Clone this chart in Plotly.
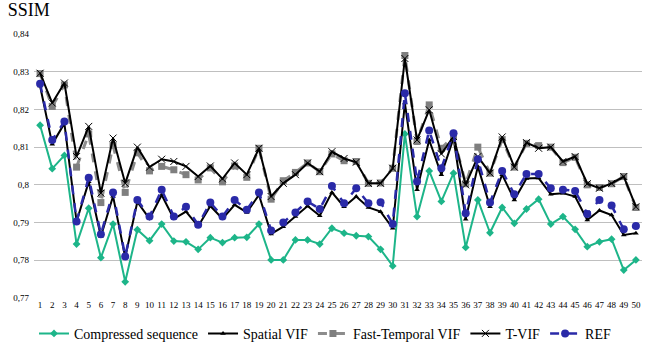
import plotly.graph_objects as go

frames = list(range(1, 51))

compressed = [0.8158, 0.8043, 0.8078, 0.7843, 0.7938, 0.7807, 0.7896, 0.7743, 0.7881, 0.7852,
              0.7896, 0.7851, 0.7849, 0.7829, 0.7860, 0.7847, 0.7860, 0.7861, 0.7896, 0.7801,
              0.7801, 0.7854, 0.7854, 0.7843, 0.7885, 0.7872, 0.7865, 0.7863, 0.7829, 0.7785,
              0.8135, 0.7916, 0.8037, 0.7956, 0.8031, 0.7834, 0.7960, 0.7873, 0.7940, 0.7898,
              0.7936, 0.7962, 0.7896, 0.7916, 0.7882, 0.7836, 0.7849, 0.7856, 0.7774, 0.7801]

spatial_vif = [0.8262, 0.8108, 0.8163, 0.7903, 0.8008, 0.7863, 0.7970, 0.7808, 0.7955, 0.7910,
               0.7973, 0.7910, 0.7929, 0.7890, 0.7944, 0.7910, 0.7947, 0.7927, 0.7973, 0.7870,
               0.7889, 0.7916, 0.7944, 0.7918, 0.7980, 0.7942, 0.7969, 0.7940, 0.7929, 0.7885,
               0.8217, 0.7987, 0.8119, 0.8027, 0.8124, 0.7909, 0.8049, 0.7942, 0.8027, 0.7960,
               0.8017, 0.8018, 0.7975, 0.7978, 0.7969, 0.7907, 0.7932, 0.7920, 0.7867, 0.7872]

fast_temporal_vif = [0.8295, 0.8208, 0.8265, 0.8047, 0.8135, 0.7953, 0.8105, 0.7980, 0.8085, 0.8037,
                     0.8049, 0.8040, 0.8027, 0.8013, 0.8045, 0.8008, 0.8050, 0.8020, 0.8097, 0.7962,
                     0.8011, 0.8033, 0.8058, 0.8035, 0.8082, 0.8064, 0.8062, 0.8004, 0.8005, 0.8044,
                     0.8343, 0.8115, 0.8212, 0.8097, 0.8128, 0.8003, 0.8100, 0.8031, 0.8120, 0.8047,
                     0.8110, 0.8104, 0.8100, 0.8059, 0.8073, 0.8000, 0.7993, 0.8003, 0.8022, 0.7940]

t_vif = [0.8296, 0.8217, 0.8270, 0.8075, 0.8155, 0.7978, 0.8124, 0.8004, 0.8100, 0.8047,
         0.8068, 0.8062, 0.8049, 0.8022, 0.8050, 0.8016, 0.8058, 0.8027, 0.8097, 0.7969,
         0.8004, 0.8027, 0.8058, 0.8035, 0.8088, 0.8070, 0.8060, 0.8004, 0.8004, 0.8044,
         0.8335, 0.8119, 0.8199, 0.8082, 0.8128, 0.8000, 0.8075, 0.8031, 0.8127, 0.8047,
         0.8112, 0.8097, 0.8100, 0.8062, 0.8075, 0.8003, 0.7991, 0.8004, 0.8022, 0.7942]

ref = [0.8268, 0.8119, 0.8168, 0.7903, 0.8019, 0.7869, 0.7980, 0.7810, 0.7960, 0.7916,
       0.7987, 0.7916, 0.7942, 0.7894, 0.7953, 0.7916, 0.7960, 0.7934, 0.7980, 0.7879,
       0.7900, 0.7927, 0.7956, 0.7936, 0.7997, 0.7951, 0.7991, 0.7951, 0.7954, 0.7896,
       0.8243, 0.8009, 0.8144, 0.8044, 0.8137, 0.7925, 0.8068, 0.7953, 0.8037, 0.7975,
       0.8029, 0.8029, 0.7991, 0.7987, 0.7984, 0.7923, 0.7960, 0.7945, 0.7882, 0.7891]

y_tick_vals = [0.77, 0.78, 0.79, 0.80, 0.81, 0.82, 0.83, 0.84]
y_tick_text = ["0,77", "0,78", "0,79", "0,8", "0,81", "0,82", "0,83", "0,84"]

SERIF = "Liberation Serif, Times New Roman, serif"

fig = go.Figure()
fig.add_trace(go.Scatter(x=frames, y=compressed, name="Compressed sequence", mode="lines+markers",
                         line=dict(color="#1DB589", width=2),
                         marker=dict(symbol="diamond", size=6, color="#1DB589")))
fig.add_trace(go.Scatter(x=frames, y=spatial_vif, name="Spatial VIF", mode="lines+markers",
                         line=dict(color="#000000", width=2),
                         marker=dict(symbol="triangle-up", size=5, color="#000000")))
fig.add_trace(go.Scatter(x=frames, y=fast_temporal_vif, name="Fast-Temporal VIF", mode="lines+markers",
                         line=dict(color="#8C8C8C", width=3, dash="dash"),
                         marker=dict(symbol="square", size=7, color="#7F7F7F")))
fig.add_trace(go.Scatter(x=frames, y=t_vif, name="T-VIF", mode="lines+markers",
                         line=dict(color="#000000", width=2),
                         marker=dict(symbol="x-thin", size=7, color="#000000",
                                     line=dict(width=1, color="#000000"))))
fig.add_trace(go.Scatter(x=frames, y=ref, name="REF", mode="lines+markers",
                         line=dict(color="#2A2AA8", width=2.5, dash="dash"),
                         marker=dict(symbol="circle", size=8, color="#2A2AA8")))

fig.update_layout(
    width=649, height=349,
    margin=dict(l=34, r=7, t=34, b=51, autoexpand=False),
    paper_bgcolor="white", plot_bgcolor="white",
    font=dict(family=SERIF, color="#000000"),
    title=dict(text="SSIM", x=0.012, xanchor="left", y=0.972, yanchor="middle",
               font=dict(family=SERIF, size=18, color="#000000")),
    showlegend=True,
    legend=dict(orientation="h", x=0.0, xanchor="left", y=-0.075, yanchor="top",
                font=dict(family=SERIF, size=14, color="#000000"), itemwidth=30, tracegroupgap=0,
                bgcolor="rgba(0,0,0,0)"),
    xaxis=dict(range=[0.5, 50.5], tickmode="array", tickvals=frames,
               ticktext=[str(f) for f in frames], tickfont=dict(family=SERIF, size=9),
               showgrid=False, zeroline=False, showline=False, ticks=""),
    yaxis=dict(range=[0.77, 0.84], tickmode="array", tickvals=y_tick_vals, ticktext=y_tick_text,
               tickfont=dict(family=SERIF, size=9), showgrid=True, gridcolor="#BFBFBF",
               gridwidth=1, zeroline=False, showline=False, ticks="", ticklabelstandoff=4),
)

fig.write_html("out.html", config={"displayModeBar": False},
               post_script="document.body.style.margin='0';document.body.style.padding='0';")
